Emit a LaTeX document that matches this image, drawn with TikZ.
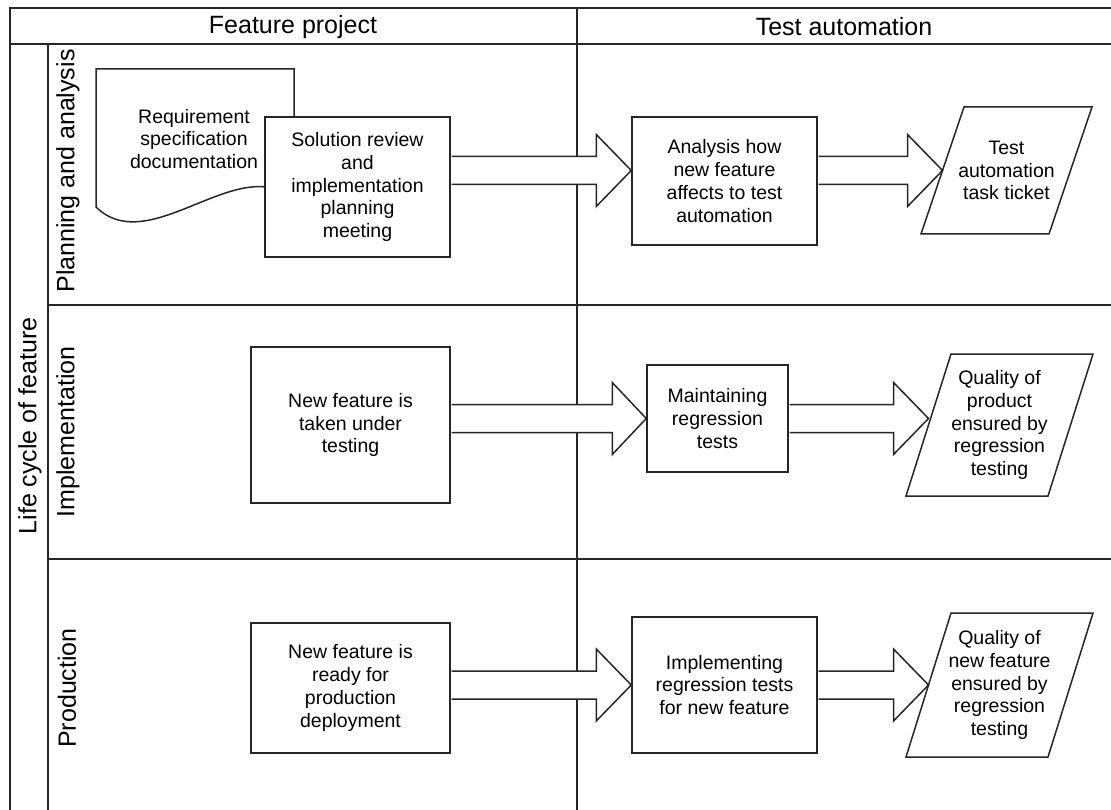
\documentclass[tikz,border=0pt]{standalone}
\usepackage{fontspec}
\setmainfont{Liberation Sans}
\usetikzlibrary{calc}
\newcommand{\bodyfont}{\fontsize{19.5}{22.7}\selectfont}
\newcommand{\headfont}{\fontsize{25}{30}\selectfont}
\tikzset{
  ln/.style={draw=black!85, line width=1.5pt},
  box/.style={ln, fill=white, rectangle, inner sep=0pt, align=center, font=\bodyfont},
  txt/.style={inner sep=0pt, align=center, font=\bodyfont},
  headtxt/.style={inner sep=0pt, font=\headfont},
  lanetxt/.style={inner sep=0pt, font=\headfont, rotate=90},
}
% parallelogram around a text node: #1 name, #2 half width, #3 half height, #4 slant
\newcommand{\paral}[4]{%
  \draw[ln] ($(#1.center)+(-#2+#4,-#3)$) -- ($(#1.center)+(#2,-#3)$)
    -- ($(#1.center)+(#2-#4,#3)$) -- ($(#1.center)+(-#2,#3)$) -- cycle;
  \coordinate (#1-in) at ($(#1.center)+(-#2+#4/2,0)$);}
% block arrow: #1 source node, #2 tip point, #3 head length
\newcommand{\fatarrow}[3]{%
  \filldraw[ln, fill=white] let \p1=(#1.east), \p2=(#2) in
    ({\x1+0.75pt},{\y2+14pt}) -- ({\x2-#3pt},{\y2+14pt}) -- ({\x2-#3pt},{\y2+36pt})
    -- (\x2,\y2) -- ({\x2-#3pt},{\y2-36pt}) -- ({\x2-#3pt},{\y2-14pt})
    -- ({\x1+0.75pt},{\y2-14pt});}
\begin{document}
\begin{tikzpicture}[x=1pt,y=-1pt]
\useasboundingbox (0,0) rectangle (1111,810);
\clip (0,0) rectangle (1111,810);
% swimlane frame
\draw[ln] (10,8) rectangle (1120,820);
\draw[ln] (10,44) -- (1120,44);
\draw[ln] (577,8) -- (577,820);
\draw[ln] (48,44) -- (48,820);
\draw[ln] (48,305) -- (1120,305);
\draw[ln] (48,559) -- (1120,559);
% headers
\node[headtxt] (hfp) at (293,27) {Feature project};
\node[headtxt] (hta) at (844,27) {Test automation};
\node[lanetxt] (llc) at (30,426) {Life cycle of feature};
\node[lanetxt] (lpa) at (68,171) {Planning and analysis};
\node[lanetxt] (lim) at (68,432) {Implementation};
\node[lanetxt] (lpr) at (67,688) {Production};
% planning lane
\draw[ln, fill=white] (96,207) -- (96,69) -- (294,69) -- (294,200)
  .. controls (240,150) and (150,260) .. (96,207) -- cycle;
\node[txt] (doc) at (194,139) {Requirement\\specification\\documentation};
\node[box, minimum width=185pt, minimum height=140pt] (sol) at (357.5,187)
  {Solution review\\and\\implementation\\planning\\meeting};
\node[box, minimum width=185pt, minimum height=128pt] (ana) at (724.5,181)
  {Analysis how\\new feature\\affects to test\\automation};
\node[txt] (tick) at (1006.5,170.5) {Test\\automation\\task ticket};
\paral{tick}{85.5}{63.5}{43}
% implementation lane
\node[box, minimum width=199pt, minimum height=156pt] (nf1) at (350.5,425)
  {New feature is\\taken under\\testing};
\node[box, minimum width=141pt, minimum height=107pt] (maint) at (717.5,418.5)
  {Maintaining\\regression\\tests};
\node[txt] (q1) at (999.5,425) {Quality of\\product\\ensured by\\regression\\testing};
\paral{q1}{93.5}{71}{45}
% production lane
\node[box, minimum width=199pt, minimum height=130pt] (nf2) at (350.5,688)
  {New feature is\\ready for\\production\\deployment};
\node[box, minimum width=185pt, minimum height=136pt] (impl) at (724.5,685)
  {Implementing\\regression tests\\for new feature};
\node[txt] (q2) at (999.5,685) {Quality of\\new feature\\ensured by\\regression\\testing};
\paral{q2}{93.5}{72}{45}
% block arrows
\fatarrow{sol}{ana.west |- tick-in}{35}
\fatarrow{ana}{tick-in}{35}
\fatarrow{nf1}{maint.west}{34}
\fatarrow{maint}{q1-in |- maint.west}{35}
\fatarrow{nf2}{impl.west}{35}
\fatarrow{impl}{q2-in}{35}
\end{tikzpicture}
\end{document}
